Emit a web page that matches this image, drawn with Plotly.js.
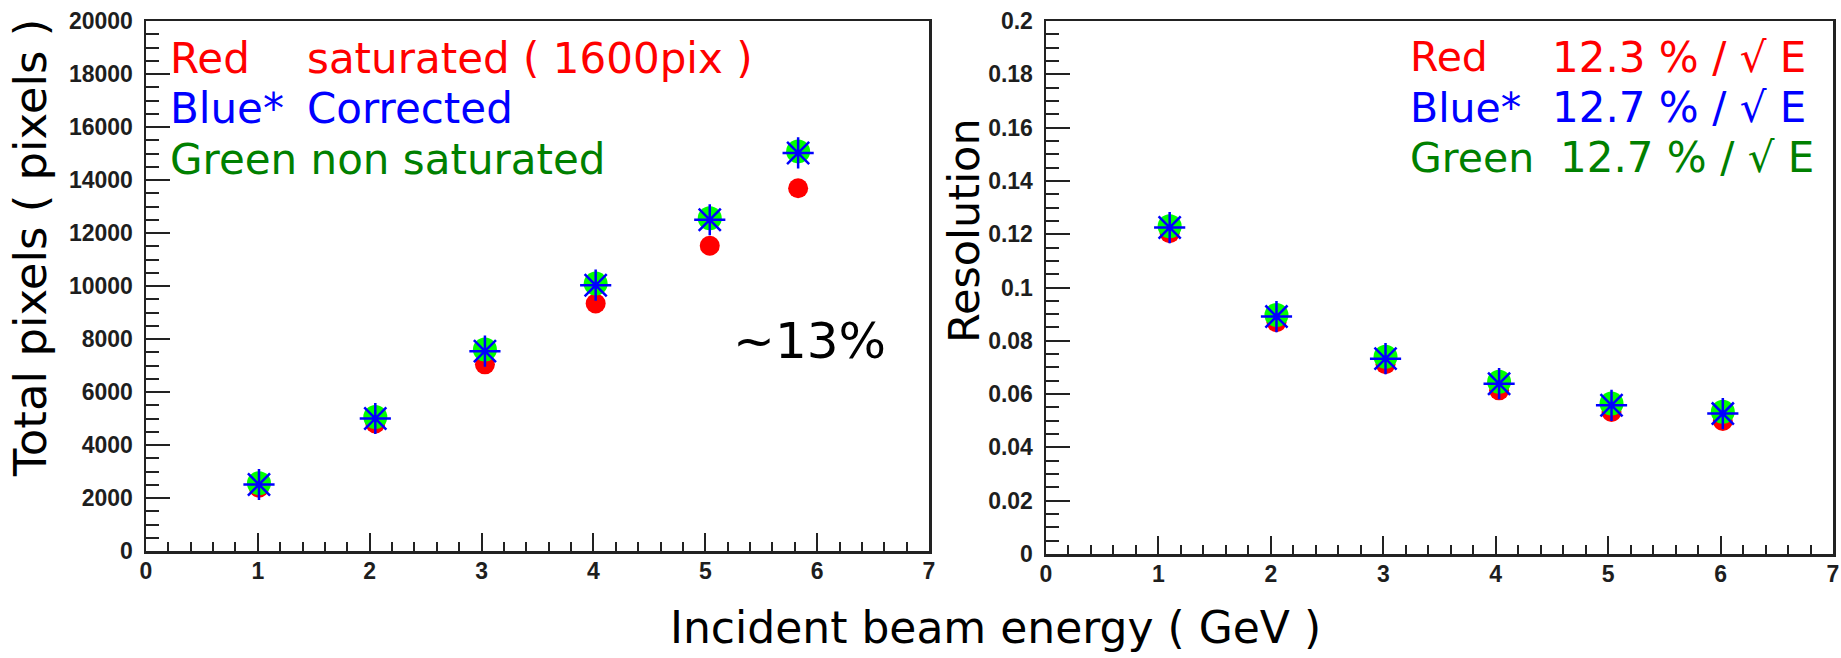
<!DOCTYPE html>
<html>
<head>
<meta charset="utf-8">
<script src="https://cdn.plot.ly/plotly-3.0.1.min.js"></script>
<style>
  html, body { margin: 0; padding: 0; background: #ffffff; }
  #chart { width: 1841px; height: 658px; }
</style>
</head>
<body>
<div id="chart"></div>
<script>
// ---- data ----
const energyLeft  = [1.01, 2.05, 3.03, 4.02, 5.04, 5.83];
const pixelsRed   = [2390, 4810, 7045, 9340, 11520, 13690];
const pixelsBlue  = [2510, 5000, 7540, 10030, 12500, 15020];
const pixelsGreen = [2560, 5060, 7600, 10090, 12560, 15080];

const energyRight = [1.10, 2.05, 3.02, 4.03, 5.03, 6.02];
const resRed   = [0.1204, 0.0870, 0.0712, 0.0614, 0.0533, 0.0499];
const resBlue  = [0.1225, 0.0891, 0.0733, 0.0639, 0.0558, 0.0527];
const resGreen = [0.1230, 0.0897, 0.0740, 0.0646, 0.0565, 0.0534];

const leftLegendLabels = ["Red", "Blue*", "Green non saturated"];
const leftLegendValues = ["saturated ( 1600pix )", "Corrected", ""];
const rightLegendLabels = ["Red", "Blue*", "Green"];
const rightLegendValues = ["12.3 % / \u221A E", "12.7 % / \u221A E", "12.7 % / \u221A E"];
const legendColors = ["#ff0000", "#0000ff", "#008000"];

const xTitle = "Incident beam energy ( GeV )";
const yTitleLeft = "Total pixels ( pixels )";
const yTitleRight = "Resolution";
const note = "~13%";

// ---- layout helpers ----
const W = 1841, H = 658;
const px = v => v / W;
const py = v => 1 - v / H;

const red   = {symbol: "circle", size: 20, color: "#ff0000", line: {width: 0}};
const green = {symbol: "circle", size: 24, color: "#00ff00", line: {width: 0}};
const blue  = {symbol: "asterisk-open", size: 26, color: "#0000ff", line: {color: "#0000ff", width: 2.5}};

const traces = [
  {x: energyLeft, y: pixelsRed,   xaxis: "x",  yaxis: "y",  mode: "markers", type: "scatter", marker: red,   name: "Red"},
  {x: energyLeft, y: pixelsGreen, xaxis: "x",  yaxis: "y",  mode: "markers", type: "scatter", marker: green, name: "Green"},
  {x: energyLeft, y: pixelsBlue,  xaxis: "x",  yaxis: "y",  mode: "markers", type: "scatter", marker: blue,  name: "Blue"},
  {x: energyRight, y: resRed,   xaxis: "x2", yaxis: "y2", mode: "markers", type: "scatter", marker: red,   name: "Red"},
  {x: energyRight, y: resGreen, xaxis: "x2", yaxis: "y2", mode: "markers", type: "scatter", marker: green, name: "Green"},
  {x: energyRight, y: resBlue,  xaxis: "x2", yaxis: "y2", mode: "markers", type: "scatter", marker: blue,  name: "Blue"}
];

const tickFont = {family: "Liberation Sans, Arial, sans-serif", size: 23, color: "#1e1e1e", weight: "bold"};
const lineCol = "#222222";

function xAxis(domain) {
  return {
    domain: domain, range: [0, 7], dtick: 1, tick0: 0,
    ticks: "inside", ticklen: 18, tickwidth: 2, tickcolor: lineCol,
    minor: {ticks: "inside", dtick: 0.2, ticklen: 9, tickwidth: 2, tickcolor: lineCol},
    showline: true, linewidth: 2.5, linecolor: lineCol, mirror: true,
    showgrid: false, zeroline: false, tickfont: tickFont, ticklabelstandoff: -2
  };
}
function yAxis(domain, range, dtick, minorDtick, fmt) {
  const a = {
    domain: domain, range: range, dtick: dtick, tick0: 0,
    ticks: "inside", ticklen: 24, tickwidth: 2, tickcolor: lineCol,
    minor: {ticks: "inside", dtick: minorDtick, ticklen: 13, tickwidth: 2, tickcolor: lineCol},
    showline: true, linewidth: 2.5, linecolor: lineCol, mirror: true,
    showgrid: false, zeroline: false, tickfont: tickFont, ticklabelstandoff: 6
  };
  if (fmt) a.tickformat = fmt;
  return a;
}

const annFont = (size, color, family) => ({family: family || "DejaVu Sans, sans-serif", size: size, color: color});
const annotations = [];

// left legend
const leftBase = [73, 123, 174];
for (let i = 0; i < 3; i++) {
  annotations.push({xref: "paper", yref: "paper", x: px(168), y: py(leftBase[i] - 14.5),
    xanchor: "left", yanchor: "middle", showarrow: false, text: leftLegendLabels[i],
    font: annFont(42, legendColors[i])});
  if (leftLegendValues[i]) {
    annotations.push({xref: "paper", yref: "paper", x: px(305), y: py(leftBase[i] - 14.5),
      xanchor: "left", yanchor: "middle", showarrow: false, text: leftLegendValues[i],
      font: annFont(42, legendColors[i])});
  }
}
// right legend
const rightBase = [72, 122, 172];
const rightValX = [1550, 1550, 1558];
for (let i = 0; i < 3; i++) {
  annotations.push({xref: "paper", yref: "paper", x: px(1408), y: py(rightBase[i] - 14.5),
    xanchor: "left", yanchor: "middle", showarrow: false, text: rightLegendLabels[i],
    font: annFont(41, legendColors[i])});
  annotations.push({xref: "paper", yref: "paper", x: px(rightValX[i]), y: py(rightBase[i] - 14.5),
    xanchor: "left", yanchor: "middle", showarrow: false, text: rightLegendValues[i],
    font: annFont(42, legendColors[i])});
}
// ~13%
annotations.push({xref: "paper", yref: "paper", x: px(731), y: py(358 - 17),
  xanchor: "left", yanchor: "middle", showarrow: false, text: note,
  font: annFont(50, "#000000")});
// axis titles
annotations.push({xref: "paper", yref: "paper", x: px(995), y: py(642 - 15),
  xanchor: "center", yanchor: "middle", showarrow: false, text: xTitle,
  font: annFont(44, "#000000")});
annotations.push({xref: "paper", yref: "paper", x: px(31), y: py(248),
  xanchor: "center", yanchor: "middle", showarrow: false, text: yTitleLeft, textangle: -90,
  font: annFont(45, "#000000")});
annotations.push({xref: "paper", yref: "paper", x: px(964), y: py(230),
  xanchor: "center", yanchor: "middle", showarrow: false, text: yTitleRight, textangle: -90,
  font: annFont(43, "#000000")});

const layout = {
  width: W, height: H,
  margin: {l: 0, r: 0, t: 0, b: 0, pad: 0},
  paper_bgcolor: "#ffffff", plot_bgcolor: "#ffffff",
  showlegend: false,
  xaxis:  xAxis([146 / W, 929 / W]),
  yaxis:  yAxis([1 - 551 / H, 1 - 21 / H], [0, 20000], 2000, 500, "d"),
  xaxis2: Object.assign(xAxis([1046 / W, 1833 / W]), {anchor: "y2"}),
  yaxis2: Object.assign(yAxis([1 - 554 / H, 1 - 21 / H], [0, 0.2], 0.02, 0.005), {anchor: "x2"}),
  annotations: annotations
};
layout.xaxis.anchor = "y";
layout.yaxis.anchor = "x";

Plotly.newPlot("chart", traces, layout, {displayModeBar: false, staticPlot: true});
</script>
</body>
</html>
